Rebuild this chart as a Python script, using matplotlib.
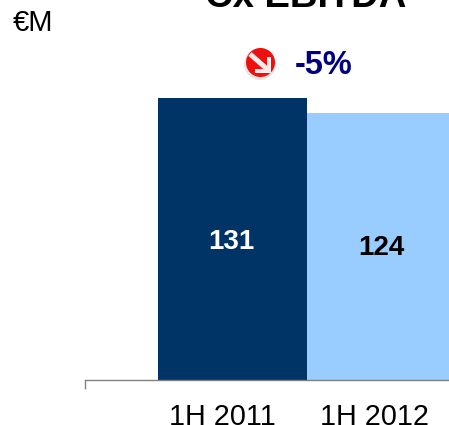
import matplotlib
matplotlib.use('Agg')
import matplotlib.pyplot as plt
from matplotlib.patches import Circle, FancyArrow

categories = ['1H 2011', '1H 2012']
values = [131, 124]
bar_colors = ['#003366', '#99CCFF']
label_colors = ['white', 'black']
label_heights = [65, 62.5]

plt.rcParams['font.family'] = ['Liberation Sans', 'DejaVu Sans']

W, H = 449, 425
fig = plt.figure(figsize=(W / 100, H / 100), dpi=100)

# plot area in pixels: baseline at y=380, left end of axis at x=85
ax = fig.add_axes([85 / W, (H - 380.2) / H, (W - 85) / W, 330 / H])
ax.bar(range(len(values)), values, width=1.0, color=bar_colors)
ax.set_xlim(-0.99, 1.453)
ax.set_ylim(0, 330 / 2.153)

for s in ['top', 'right', 'left']:
    ax.spines[s].set_visible(False)
ax.spines['bottom'].set_color('#808080')
ax.spines['bottom'].set_linewidth(1)
ax.set_yticks([])
# the labels sit a bit left of the bar centres in the original
ax.set_xticks([-0.067, 0.95])
ax.set_xticklabels(categories, fontsize=20.7)
ax.tick_params(axis='x', length=0, pad=16.5, colors='black')
ax.set_xticks([-0.99], minor=True)
ax.tick_params(axis='x', which='minor', length=6.5, width=1, color='#808080')

for i, v in enumerate(values):
    ax.text(i - 0.01 * (1 - i), label_heights[i] - 1, str(v), ha='center', va='center',
            fontsize=20, fontweight='bold', color=label_colors[i])

# overlay in pixel coordinates for the texts above the bars
ov = fig.add_axes([0, 0, 1, 1])
ov.set_xlim(0, W)
ov.set_ylim(H, 0)
ov.axis('off')
ov.text(305.5, 7, 'Cx EBITDA', ha='center', va='baseline', fontsize=27.5, fontweight='bold')
ov.text(13, 31, '€M', ha='left', va='baseline', fontsize=21)
ov.text(324, 74, '-5%', ha='center', va='baseline', fontsize=23.5, fontweight='bold',
        color='#000080')

# red down arrow icon
ov.add_patch(Circle((260, 64), 16, fc='#e6e6e6', ec='none'))
ov.add_patch(Circle((260.5, 62.5), 14.5, fc='#ee0f0f', ec='none'))
ov.add_patch(FancyArrow(250, 54, 17, 15, width=5, head_width=0, head_length=0,
                        fc='#ffe8e8', ec='none'))
ov.add_patch(FancyArrow(269, 57, 0, 15, width=4, head_width=0, head_length=0,
                        fc='#ffe8e8', ec='none'))
ov.add_patch(FancyArrow(255, 71, 16, 0, width=4, head_width=0, head_length=0,
                        fc='#ffe8e8', ec='none'))

fig.savefig('out.png', dpi=100)
